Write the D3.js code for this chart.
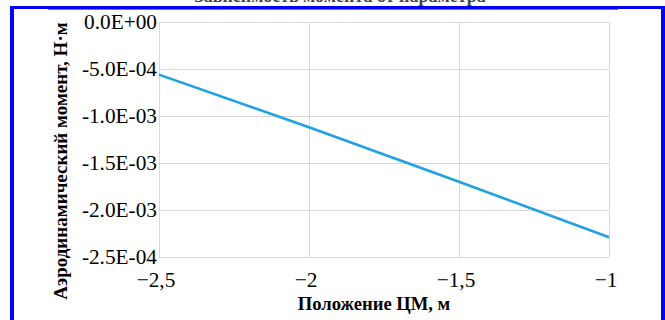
<!DOCTYPE html>
<html><head><meta charset="utf-8">
<script src="https://cdn.jsdelivr.net/npm/d3@7"></script>
<style>html,body{margin:0;padding:0;background:#fff;overflow:hidden}
text{font-family:"Liberation Serif","Times New Roman","DejaVu Serif",serif;}</style>
</head><body>
<svg id="c" width="665" height="320"></svg>
<script>
const titleText = "Зависимость момента от параметра";
const xLabel = "Положение ЦМ, м";
const yLabel = "Аэродинамический момент, Н·м";
const xValues = [-2.5, -2, -1.5, -1];
const yValues = [-5.6e-4, -1.12e-3, -1.70e-3, -2.29e-3];
const xTicks = [-2.5, -2, -1.5, -1];
const xTickLabels = ["−2,5", "−2", "−1,5", "−1"];
const yTicks = [0, -5e-4, -1e-3, -1.5e-3, -2e-3, -2.5e-3];
const yTickLabels = ["0.0E+00", "-5.0E-04", "-1.0E-03", "-1.5E-03", "-2.0E-03", "-2.5E-04"];

const svg = d3.select("#c");
const x = d3.scaleLinear().domain([-2.5, -1]).range([159, 609]);
const y = d3.scaleLinear().domain([-2.5e-3, 0]).range([257, 22]);

svg.append("rect").attr("width", 665).attr("height", 320).attr("fill", "#fff");

// grid
const grid = svg.append("g").attr("stroke", "#d9d9d9").attr("stroke-width", 1).attr("shape-rendering", "crispEdges");
grid.selectAll("line.h").data(yTicks).join("line").attr("class", "h")
  .attr("x1", x(-2.5)).attr("x2", x(-1)).attr("y1", d => Math.round(y(d)) + 0.5).attr("y2", d => Math.round(y(d)) + 0.5);
grid.selectAll("line.v").data(xTicks).join("line").attr("class", "v")
  .attr("y1", y(0)).attr("y2", y(-2.5e-3)).attr("x1", d => Math.round(x(d)) + 0.5).attr("x2", d => Math.round(x(d)) + 0.5);

// y tick labels
svg.append("g").selectAll("text").data(yTicks).join("text")
  .attr("x", x(-2.5) - 2).attr("y", d => y(d) + 7)
  .attr("text-anchor", "end").attr("font-size", 21.3).attr("fill", "#000")
  .text((d, i) => yTickLabels[i]);

// x tick labels
svg.append("g").selectAll("text").data(xTicks).join("text")
  .attr("x", d => x(d) - 3).attr("y", 287)
  .attr("text-anchor", "middle").attr("font-size", 21.3).attr("fill", "#000")
  .text((d, i) => xTickLabels[i]);

// line
const pts = xValues.map((v, i) => [v, yValues[i]]);
svg.append("path").datum(pts)
  .attr("d", d3.line().x(d => x(d[0])).y(d => y(d[1])))
  .attr("fill", "none").attr("stroke", "#1ea2e2").attr("stroke-width", 2.6);

// axis titles
svg.append("text").attr("x", 374).attr("y", 310).attr("text-anchor", "middle")
  .attr("font-weight", "bold").attr("font-size", 18.6).text(xLabel);
svg.append("text").attr("transform", "translate(67,161) rotate(-90)").attr("text-anchor", "middle")
  .attr("font-weight", "bold").attr("font-size", 19).text(yLabel);

// clipped title
svg.append("text").attr("x", 340).attr("y", 2).attr("text-anchor", "middle")
  .attr("font-weight", "bold").attr("font-size", 18).attr("fill", "#444").text(titleText);

// blue frame
svg.append("rect").attr("x", 10).attr("y", 6).attr("width", 4).attr("height", 314).attr("fill", "#0000ff");
svg.append("rect").attr("x", 10).attr("y", 6).attr("width", 655).attr("height", 3).attr("fill", "#0000ff");
svg.append("rect").attr("x", 48).attr("y", 9).attr("width", 570).attr("height", 1).attr("fill", "#7070ff");
svg.append("rect").attr("x", 661).attr("y", 6).attr("width", 4).attr("height", 314).attr("fill", "#0000ff");
</script>
</body></html>
